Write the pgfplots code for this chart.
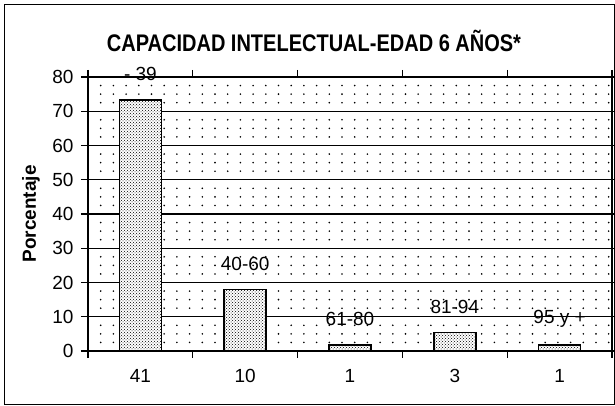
\documentclass[border=0pt]{standalone}
\usepackage{fontspec}
\setmainfont{Liberation Sans}
\usepackage{graphicx}
\usepackage{pgfplots}
\pgfplotsset{compat=1.18}
\usetikzlibrary{patterns}

\begin{document}
\begin{tikzpicture}
\useasboundingbox (-88pt,-55pt) rectangle (527pt,351pt);
% outer frame of the chart area
\draw[line width=0.8pt] (-84pt,-53pt) rectangle (526pt,347pt);
\node[font=\bfseries\fontsize{20}{24}\selectfont] at (226pt,310pt)
  {\scalebox{1}[1.2]{CAPACIDAD INTELECTUAL-EDAD 6 AÑOS*}};
\begin{axis}[
    at={(0pt,0pt)}, anchor=south west,
    scale only axis, width=524pt, height=274pt,
    ymin=0, ymax=80, ytick={0,10,...,80},
    xmin=-0.5, xmax=4.5,
    xtick={-0.5,0.5,...,4.5},
    x tick label as interval,
    xticklabels={41,10,1,3,1},
    ymajorgrids, yminorgrids, minor y tick num=3,
    major grid style={black, line width=1.3pt},
    minor grid style={black, line width=1.8pt, dash pattern=on 0pt off 12.7pt, line cap=round},
    minor tick length=0pt,
    tick align=outside, major tick length=7pt,
    every tick/.style={black, line width=1.2pt},
    axis line style={line width=1.6pt},
    ticklabel style={font=\fontsize{19}{22}\selectfont},
    yticklabel style={xshift=-4pt},
    xticklabel style={yshift=-8pt},
    /pgf/number format/assume math mode=true,
    ylabel={Porcentaje},
    ylabel style={font=\bfseries\fontsize{19}{22}\selectfont,
      at={(axis description cs:-0.109,0.5)}, anchor=center},
]
\addplot[ybar, bar width=0.4, draw=black, line width=1.6pt, fill=white,
  postaction={pattern=crosshatch dots},
  nodes near coords, point meta=explicit symbolic,
  every node near coord/.append style={font=\fontsize{19}{22}\selectfont,
    anchor=center, yshift=26pt, line width=0pt}]
  coordinates {(0,73.2)[- 39] (1,17.9)[40-60] (2,1.8)[61-80] (3,5.4)[81-94] (4,1.8)[95 y +]};
\end{axis}
\end{tikzpicture}
\end{document}
